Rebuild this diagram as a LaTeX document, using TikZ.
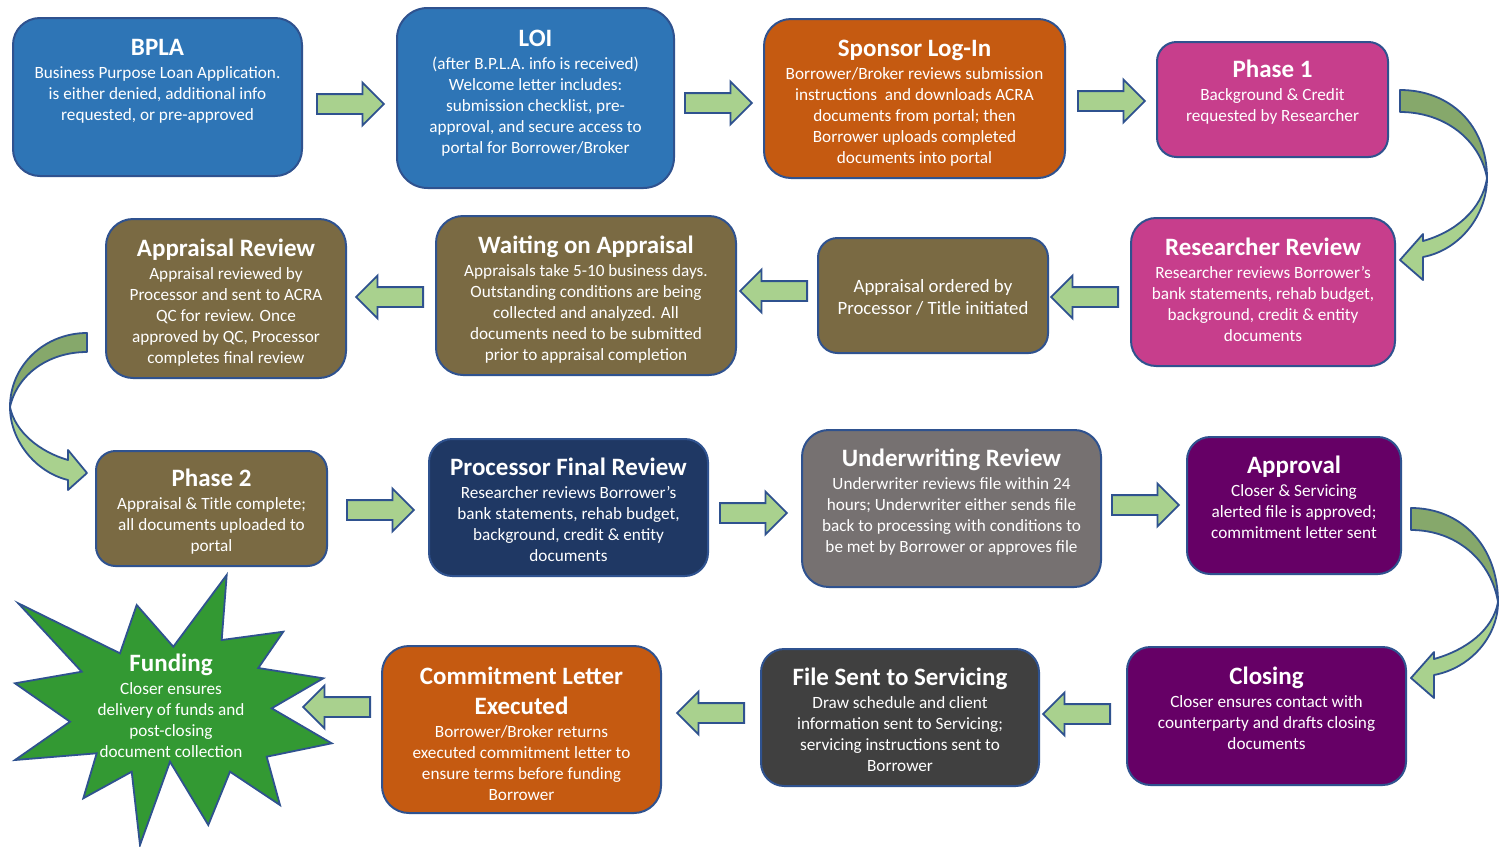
\documentclass[tikz,border=0pt]{standalone}
\usepackage{fontspec}
\setmainfont{Carlito}
\usetikzlibrary{shapes.arrows}

\definecolor{edge}{HTML}{2F528F}
\definecolor{cblue}{HTML}{2E75B6}
\definecolor{corange}{HTML}{C55A11}
\definecolor{cpink}{HTML}{C73E8C}
\definecolor{colive}{HTML}{7A6A43}
\definecolor{cnavy}{HTML}{1F3864}
\definecolor{cgrey}{HTML}{767171}
\definecolor{cpurple}{HTML}{660066}
\definecolor{cdark}{HTML}{404040}
\definecolor{cstar}{HTML}{339933}
\definecolor{arrowlight}{HTML}{A9D18E}
\definecolor{arrowdark}{HTML}{86A86B}

\tikzset{
  stagebox/.style={draw=edge, line width=2pt, inner sep=0pt, outer sep=0pt},
  titletext/.style={text=white, font=\fontsize{25}{30}\selectfont\bfseries, inner sep=0pt, align=center},
  bodytext/.style={text=white, font=\fontsize{17.2}{21}\selectfont, inner sep=0pt, align=center},
  flowarrow/.style={single arrow, draw=edge, fill=arrowlight, line width=1.8pt,
    minimum height=67pt, single arrow head extend=11.5pt,
    single arrow tip angle=90, inner xsep=0pt, inner ysep=9pt, anchor=tail},
  rightarrow/.style={flowarrow},
  leftarrow/.style={flowarrow, shape border rotate=180},
  bandedge/.style={draw=edge, line width=1.8pt, line join=round},
}

% name, fill, x1, y1, x2, y2, title baseline, title, body lines
\newcommand\stage[9]{%
  \pgfmathsetmacro\rr{0.17*min(#5-#3,#6-#4)}%
  \node[stagebox, fill=#2, minimum width={#5-#3}, minimum height={#6-#4},
        rounded corners=\rr pt] (#1) at ({(#3+#5)/2},{(#4+#6)/2}) {};
  \node[titletext, anchor=base] (#1-t) at ({(#3+#5)/2},#7) {#8};
  \node[bodytext, anchor=north] (#1-b) at ({(#3+#5)/2},{#7+9}) {\rule{0pt}{14pt}#9};
}

\begin{document}
\begin{tikzpicture}[x=1pt, y=-1pt]
\useasboundingbox[fill=white] (0,0) rectangle (1501,846);

% ---- row 1
\stage{bpla}{cblue}{13}{18}{302}{176}{55}{BPLA}%
  {Business Purpose Loan Application.\\is either denied, additional info\\requested, or pre-approved}
\stage{loi}{cblue}{397}{8}{674}{188}{46}{LOI}%
  {(after B.P.L.A. info is received)\\Welcome letter includes:\\submission checklist, pre-\\approval, and secure access to\\portal for Borrower/Broker}
\stage{sponsor}{corange}{764}{19}{1065}{178}{56}{Sponsor Log-In}%
  {Borrower/Broker reviews submission\\instructions \ and downloads ACRA\\documents from portal; then\\Borrower uploads completed\\documents into portal}
\stage{phase1}{cpink}{1157}{42}{1388}{157}{77}{Phase 1}%
  {Background \& Credit\\requested by Researcher}

% ---- row 2
\stage{research}{cpink}{1131}{218}{1395}{366}{255}{Researcher Review}%
  {Researcher reviews Borrower’s\\bank statements, rehab budget,\\background, credit \& entity\\documents}
\node[stagebox, fill=colive, minimum width=230, minimum height=115, rounded corners=19.5pt]
  (ordered) at (933,295.5) {};
\node[bodytext, font=\fontsize{18.8}{22}\selectfont] (ordered-b) at (933,297)
  {Appraisal ordered by\\Processor / Title initiated};
\stage{waiting}{colive}{436}{216}{736}{375}{253}{Waiting on Appraisal}%
  {Appraisals take 5-10 business days.\\Outstanding conditions are being\\collected and analyzed. All\\documents need to be submitted\\prior to appraisal completion}
\stage{apprev}{colive}{106}{219}{346}{378}{256}{Appraisal Review}%
  {Appraisal reviewed by\\Processor and sent to ACRA\\QC for review. Once\\approved by QC, Processor\\completes final review}

% ---- row 3
\stage{phase2}{colive}{96}{451}{327}{566}{486}{Phase 2}%
  {Appraisal \& Title complete;\\all documents uploaded to\\portal}
\stage{pfr}{cnavy}{429}{439}{708}{576}{475}{Processor Final Review}%
  {Researcher reviews Borrower’s\\bank statements, rehab budget,\\background, credit \& entity\\documents}
\stage{uw}{cgrey}{802}{430}{1101}{587}{466}{Underwriting Review}%
  {Underwriter reviews file within 24\\hours; Underwriter either sends file\\back to processing with conditions to\\be met by Borrower or approves file}
\stage{approval}{cpurple}{1187}{437}{1401}{574}{473}{Approval}%
  {Closer \& Servicing\\alerted file is approved;\\commitment letter sent}

% ---- row 4
\stage{closing}{cpurple}{1127}{647}{1406}{785}{684}{Closing}%
  {Closer ensures contact with\\counterparty and drafts closing\\documents}
\stage{servicing}{cdark}{761}{649}{1039}{786}{685}{File Sent to Servicing}%
  {Draw schedule and client\\information sent to Servicing;\\servicing instructions sent to\\Borrower}
\node[stagebox, fill=corange, minimum width=279, minimum height=167, rounded corners=27pt]
  (commit) at (521.5,729.5) {};
\node[titletext, anchor=north] (commit-t) at (521.5,666) {\rule{0pt}{18pt}Commitment Letter\\Executed};
\node[bodytext, anchor=north] (commit-b) at (521.5,723) {\rule{0pt}{14pt}Borrower/Broker returns\\executed commitment letter to\\ensure terms before funding\\Borrower};

% ---- funding burst
\draw[draw=edge, line width=1.8pt, fill=cstar, line join=miter]
  (226.7,575) -- (221.7,640) -- (283.3,631.7) -- (258.3,668) -- (323.3,678.3)
  -- (271.7,708.3) -- (331.7,743.3) -- (266.7,756.7) -- (280,805) -- (230,771.7)
  -- (208.3,825) -- (170,761.7) -- (140,845) -- (131.7,771.7) -- (83.3,798.3)
  -- (96.7,753.3) -- (15,760) -- (70,721.7) -- (15,683.3) -- (81.7,671.7)
  -- (18.3,603.3) -- (120,653.3) -- (136.7,605) -- (173.3,646.7) -- cycle;
\node[titletext, anchor=base] (funding-t) at (171,671) {Funding};
\node[bodytext, anchor=north] (funding-b) at (171,680)
  {\rule{0pt}{14pt}Closer ensures\\delivery of funds and\\post-closing\\document collection};

% ---- straight block arrows (placed by their tails)
\node[rightarrow] (a1) at (316,104) {};
\node[rightarrow] (a2) at (684,103) {};
\node[rightarrow] (a3) at (1077,101) {};
\node[leftarrow] (a4) at (1119,297) {};
\node[leftarrow] (a5) at (808,291) {};
\node[leftarrow] (a6) at (424,297) {};
\node[rightarrow] (a7) at (346,510) {};
\node[rightarrow] (a8) at (719,513) {};
\node[rightarrow] (a9) at (1111,505) {};
\node[leftarrow] (a10) at (1111,714) {};
\node[leftarrow] (a11) at (745,713) {};
\node[leftarrow] (a12) at (371,707) {};

% ---- curved arrow: Phase 1 down to Researcher Review
\path[bandedge, fill=arrowdark] (1400,90) .. controls (1450,90) and (1487,125) .. (1487,178)
  .. controls (1480,140) and (1445,112) .. (1400,112) -- cycle;
\path[bandedge, fill=arrowlight] (1487,178) .. controls (1487,215) and (1460,250) .. (1423,257)
  -- (1423,280) -- (1400,260) -- (1423,234) -- (1423,241)
  .. controls (1455,232) and (1482,210) .. (1487,178) -- cycle;

% ---- curved arrow: Approval down to Closing
\begin{scope}[shift={(11,418)}]
\path[bandedge, fill=arrowdark] (1400,90) .. controls (1450,90) and (1487,128) .. (1487,184)
  .. controls (1480,142) and (1445,112) .. (1400,112) -- cycle;
\path[bandedge, fill=arrowlight] (1487,184) .. controls (1487,218) and (1460,250) .. (1423,257)
  -- (1423,280) -- (1400,260) -- (1423,234) -- (1423,241)
  .. controls (1455,232) and (1482,212) .. (1487,184) -- cycle;
\end{scope}

% ---- curved arrow: Appraisal Review down to Phase 2
\path[bandedge, fill=arrowdark] (87,333) .. controls (45,333) and (10,365) .. (10,407)
  .. controls (17,375) and (48,352) .. (87,352) -- cycle;
\path[bandedge, fill=arrowlight] (10,407) .. controls (10,440) and (35,472) .. (68,480)
  -- (68,490) -- (87,473) -- (68,450) -- (68,460)
  .. controls (40,452) and (15,432) .. (10,407) -- cycle;

\end{tikzpicture}
\end{document}
